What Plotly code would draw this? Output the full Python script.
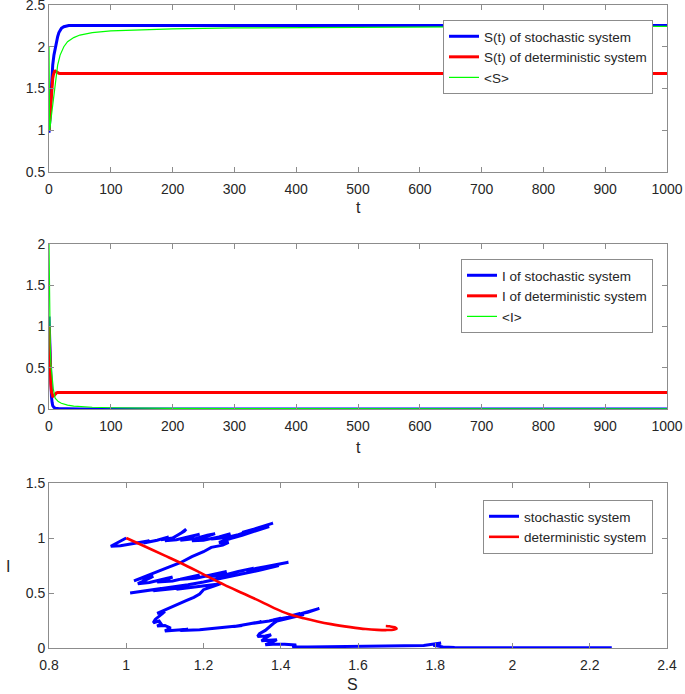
import plotly.graph_objects as go

# ---------------- data: panel 1 (S vs t) ----------------
t_S_sto = [0, 1, 2, 3, 4, 5, 6, 8, 10, 12, 14, 16, 18, 20, 24, 28, 32, 40, 60, 100, 200, 300, 400, 500, 600, 700, 800, 900, 1000]
S_sto = [0.97, 1.05, 1.2, 1.38, 1.55, 1.68, 1.78, 1.9, 1.98, 2.06, 2.12, 2.17, 2.2, 2.22, 2.24, 2.25, 2.255, 2.255, 2.255, 2.255, 2.255, 2.255, 2.255, 2.255, 2.255, 2.255, 2.255, 2.255, 2.255]

t_S_det = [0, 1, 2, 3, 4, 5, 6, 7, 8, 9, 10, 11, 12, 14, 16, 18, 20, 25, 30, 50, 100, 200, 300, 400, 500, 600, 700, 800, 900, 1000]
S_det = [1.0, 1.12, 1.25, 1.38, 1.48, 1.56, 1.62, 1.66, 1.69, 1.705, 1.71, 1.705, 1.697, 1.688, 1.683, 1.68, 1.68, 1.68, 1.68, 1.68, 1.68, 1.68, 1.68, 1.68, 1.68, 1.68, 1.68, 1.68, 1.68, 1.68]

t_S_mean = [0, 0.5, 1, 2, 3, 5, 7, 10, 14, 18, 24, 30, 40, 50, 70, 100, 150, 200, 300, 400, 500, 600, 700, 800, 900, 1000]
S_mean = [2.0, 1.5, 1.0, 1.05, 1.12, 1.25, 1.38, 1.58, 1.78, 1.9, 2.0, 2.06, 2.11, 2.14, 2.17, 2.19, 2.205, 2.215, 2.225, 2.23, 2.235, 2.238, 2.24, 2.242, 2.244, 2.245]

# ---------------- data: panel 2 (I vs t) ----------------
t_I_sto = [0, 0.5, 1, 2, 3, 4, 5, 6, 8, 10, 15, 20, 30, 50, 100, 200, 300, 400, 500, 600, 700, 800, 900, 1000]
I_sto = [1.12, 1.0, 0.8, 0.5, 0.3, 0.15, 0.08, 0.04, 0.02, 0.01, 0.005, 0.003, 0.002, 0.001, 0.0, 0.0, 0.0, 0.0, 0.0, 0.0, 0.0, 0.0, 0.0, 0.0]

t_I_det = [0, 1, 2, 3, 4, 5, 6, 7, 8, 10, 12, 14, 16, 20, 25, 30, 50, 100, 200, 300, 400, 500, 600, 700, 800, 900, 1000]
I_det = [1.0, 0.7, 0.45, 0.3, 0.21, 0.17, 0.155, 0.155, 0.165, 0.185, 0.195, 0.2, 0.2, 0.2, 0.2, 0.2, 0.2, 0.2, 0.2, 0.2, 0.2, 0.2, 0.2, 0.2, 0.2, 0.2, 0.2]

t_I_mean = [0, 0.5, 1, 2, 3, 5, 7, 10, 15, 20, 30, 40, 50, 70, 100, 150, 200, 300, 500, 700, 1000]
I_mean = [2.0, 1.5, 1.1, 0.75, 0.55, 0.35, 0.24, 0.13, 0.09, 0.07, 0.047, 0.036, 0.029, 0.021, 0.015, 0.01, 0.008, 0.005, 0.003, 0.002, 0.0015]

# ---------------- data: panel 3 (phase plane), read as (S, I) vertices ----------------
path_sto = [
    (1.00, 1.00), (0.975, 0.955), (0.96, 0.925), (0.985, 0.93), (1.01, 0.945), (0.995, 0.94), (1.03, 0.955),
    (1.06, 0.975), (1.045, 0.955), (1.08, 0.98), (1.11, 1.01), (1.09, 0.985), (1.12, 1.0), (1.15, 1.06),
    (1.155, 1.08), (1.14, 1.04), (1.12, 1.00), (1.10, 0.975), (1.13, 0.985), (1.17, 1.015), (1.19, 1.035),
    (1.165, 1.01), (1.14, 0.98), (1.18, 0.995), (1.21, 1.025), (1.23, 1.04), (1.20, 1.005), (1.17, 0.975),
    (1.20, 0.98), (1.24, 1.01), (1.27, 1.04), (1.25, 1.02), (1.22, 0.99), (1.26, 1.005), (1.29, 1.03),
    (1.32, 1.065), (1.30, 1.05), (1.34, 1.09), (1.38, 1.135), (1.36, 1.115), (1.33, 1.08), (1.37, 1.105),
    (1.345, 1.075), (1.30, 1.025), (1.27, 0.995), (1.24, 0.96), (1.265, 0.96), (1.25, 0.935), (1.22, 0.915),
    (1.20, 0.875), (1.17, 0.83), (1.14, 0.775), (1.11, 0.735), (1.08, 0.695), (1.05, 0.655), (1.02, 0.61),
    (1.04, 0.635), (1.07, 0.65), (1.05, 0.62), (1.03, 0.585), (1.06, 0.595), (1.09, 0.62), (1.12, 0.645),
    (1.10, 0.62), (1.08, 0.60), (1.12, 0.61), (1.16, 0.64), (1.19, 0.665), (1.17, 0.645), (1.14, 0.625),
    (1.18, 0.635), (1.22, 0.665), (1.26, 0.695), (1.24, 0.675), (1.21, 0.65), (1.25, 0.66), (1.29, 0.695),
    (1.33, 0.725), (1.31, 0.705), (1.36, 0.74), (1.42, 0.78), (1.40, 0.765), (1.36, 0.73), (1.395, 0.75),
    (1.35, 0.71), (1.31, 0.68), (1.28, 0.655), (1.24, 0.625), (1.20, 0.60), (1.16, 0.575), (1.12, 0.555),
    (1.08, 0.54), (1.04, 0.52), (1.01, 0.50), (1.03, 0.515), (1.06, 0.53), (1.09, 0.54), (1.07, 0.52),
    (1.11, 0.535), (1.15, 0.55), (1.13, 0.535), (1.18, 0.555), (1.22, 0.57), (1.245, 0.585), (1.225, 0.56),
    (1.20, 0.53), (1.19, 0.49), (1.175, 0.46), (1.155, 0.43), (1.135, 0.40), (1.11, 0.365), (1.09, 0.33),
    (1.08, 0.315), (1.10, 0.33), (1.09, 0.30), (1.075, 0.26), (1.07, 0.23), (1.085, 0.245), (1.09, 0.22),
    (1.08, 0.20), (1.10, 0.205), (1.115, 0.18), (1.10, 0.155), (1.13, 0.16), (1.16, 0.17), (1.14, 0.16),
    (1.19, 0.165), (1.23, 0.18), (1.21, 0.17), (1.26, 0.19), (1.30, 0.205), (1.28, 0.195), (1.32, 0.22),
    (1.35, 0.24), (1.33, 0.225), (1.37, 0.245), (1.40, 0.27), (1.38, 0.255), (1.42, 0.28), (1.45, 0.315),
    (1.43, 0.295), (1.47, 0.325), (1.50, 0.36), (1.48, 0.34), (1.44, 0.30), (1.46, 0.305), (1.42, 0.27),
    (1.39, 0.245), (1.38, 0.22), (1.37, 0.19), (1.36, 0.16), (1.345, 0.13), (1.34, 0.105), (1.36, 0.11),
    (1.375, 0.12), (1.36, 0.09), (1.35, 0.065), (1.37, 0.07), (1.39, 0.075), (1.375, 0.05), (1.36, 0.03),
    (1.38, 0.035), (1.41, 0.035), (1.44, 0.028), (1.43, 0.012), (1.47, 0.01), (1.52, 0.012), (1.58, 0.012),
    (1.65, 0.015), (1.72, 0.017), (1.77, 0.022), (1.815, 0.045), (1.795, 0.025), (1.82, 0.01), (1.85, 0.004),
    (2.0, 0.003), (2.257, 0.003)]
S_path_sto = [p[0] for p in path_sto]
I_path_sto = [p[1] for p in path_sto]

S_path_det = [1.0, 1.05, 1.10, 1.14, 1.20, 1.253, 1.30, 1.35, 1.383, 1.42, 1.46, 1.495, 1.53, 1.58, 1.62, 1.65, 1.675, 1.692, 1.70, 1.695, 1.682, 1.672]
I_path_det = [1.0, 0.92, 0.84, 0.775, 0.67, 0.576, 0.50, 0.42, 0.363, 0.31, 0.27, 0.241, 0.217, 0.19, 0.172, 0.165, 0.163, 0.166, 0.176, 0.188, 0.197, 0.2]

# ---------------- figure ----------------
W, H = 685, 694
BLUE, RED, GREEN = "rgb(0,0,255)", "rgb(255,0,0)", "rgb(0,255,0)"
FONT = "Liberation Sans, Arial, Helvetica, sans-serif"
AX = "#8c8c8c"
TXT = "#262626"

fig = go.Figure()
fig.add_trace(go.Scatter(x=t_S_sto, y=S_sto, mode="lines", line=dict(color=BLUE, width=3),
                         name="S(t) of stochastic system", xaxis="x", yaxis="y", legend="legend"))
fig.add_trace(go.Scatter(x=t_S_det, y=S_det, mode="lines", line=dict(color=RED, width=3),
                         name="S(t) of deterministic system", xaxis="x", yaxis="y", legend="legend"))
fig.add_trace(go.Scatter(x=t_S_mean, y=S_mean, mode="lines", line=dict(color=GREEN, width=1.2),
                         name="&lt;S&gt;", xaxis="x", yaxis="y", legend="legend"))

fig.add_trace(go.Scatter(x=t_I_sto, y=I_sto, mode="lines", line=dict(color=BLUE, width=3),
                         name="I of stochastic system", xaxis="x2", yaxis="y2", legend="legend2"))
fig.add_trace(go.Scatter(x=t_I_det, y=I_det, mode="lines", line=dict(color=RED, width=3),
                         name="I of deterministic system", xaxis="x2", yaxis="y2", legend="legend2"))
fig.add_trace(go.Scatter(x=t_I_mean, y=I_mean, mode="lines", line=dict(color=GREEN, width=1.2),
                         name="&lt;I&gt;", xaxis="x2", yaxis="y2", legend="legend2"))

fig.add_trace(go.Scatter(x=S_path_sto, y=I_path_sto, mode="lines", line=dict(color=BLUE, width=3),
                         name="stochastic system", xaxis="x3", yaxis="y3", legend="legend3"))
fig.add_trace(go.Scatter(x=S_path_det, y=I_path_det, mode="lines", line=dict(color=RED, width=2.6, shape="spline"),
                         name="deterministic system", xaxis="x3", yaxis="y3", legend="legend3"))

def px_x(p):
    return p / W

def px_y(p):
    return 1 - p / H

xdom = [px_x(49), px_x(667)]

def axis(dom, rng, dtick, anchor):
    return dict(domain=dom, range=rng, dtick=dtick, tick0=0, anchor=anchor,
                showline=True, linecolor=AX, linewidth=1, mirror="allticks",
                ticks="inside", ticklen=5, tickcolor=AX, tickwidth=1,
                showgrid=False, zeroline=False, automargin=False,
                ticklabeloverflow="allow",
                tickfont=dict(family=FONT, size=14, color=TXT))

xa1 = axis(xdom, [0, 1000], 100, "y")
xa1["ticklabelstandoff"] = 4
xa2 = axis(xdom, [0, 1000], 100, "y2")
xa2["ticklabelstandoff"] = 4
xa3 = axis(xdom, [0.8, 2.4], 0.2, "y3")
xa3["ticklabelstandoff"] = 4
xa3["tick0"] = 0.8

ya1 = axis([px_y(172), px_y(5)], [0.5, 2.5], 0.5, "x")
ya2 = axis([px_y(409), px_y(244)], [0, 2], 0.5, "x2")
ya3 = axis([px_y(648), px_y(483)], [0, 1.5], 0.5, "x3")

def leg(ytop):
    return dict(x=px_x(653), xanchor="right", y=px_y(ytop), yanchor="top",
                bgcolor="white", bordercolor=AX, borderwidth=1,
                font=dict(family=FONT, size=13.5, color=TXT), tracegroupgap=0,
                itemwidth=30)

ann_font = dict(family=FONT, size=16, color=TXT)
annotations = [
    dict(text="t", x=px_x(358), y=px_y(208), xref="paper", yref="paper", showarrow=False,
         xanchor="center", yanchor="middle", font=ann_font),
    dict(text="t", x=px_x(358), y=px_y(447), xref="paper", yref="paper", showarrow=False,
         xanchor="center", yanchor="middle", font=ann_font),
    dict(text="S", x=px_x(352), y=px_y(684), xref="paper", yref="paper", showarrow=False,
         xanchor="center", yanchor="middle", font=ann_font),
    dict(text="I", x=px_x(8), y=px_y(566), xref="paper", yref="paper", showarrow=False,
         xanchor="center", yanchor="middle", font=ann_font),
]

fig.update_layout(
    width=W, height=H,
    margin=dict(l=0, r=0, t=0, b=0),
    template="none",
    paper_bgcolor="white", plot_bgcolor="white",
    showlegend=True,
    xaxis=xa1, yaxis=ya1, xaxis2=xa2, yaxis2=ya2, xaxis3=xa3, yaxis3=ya3,
    legend=leg(20), legend2=leg(259), legend3=leg(500),
    annotations=annotations,
    font=dict(family=FONT, color=TXT),
)

fig.write_html("out.html", config={"displayModeBar": False},
               post_script="document.body.style.margin='0';document.body.style.overflow='hidden';")
